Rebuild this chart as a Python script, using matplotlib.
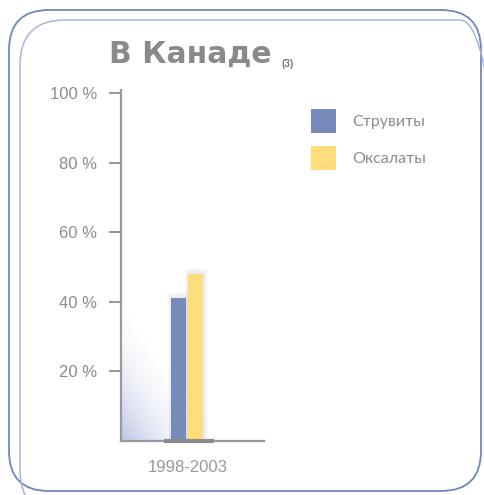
import numpy as np
import matplotlib
matplotlib.use("Agg")
import matplotlib.pyplot as plt
from matplotlib.patches import FancyBboxPatch, Rectangle

W, H = 484, 495

title = "В Канаде"
title_note = "(3)"
period = "1998-2003"
series_names = ["Струвиты", "Оксалаты"]
series_values = [41, 48]
series_colors = ["#788abb", "#ffdd7a"]
yticks = [20, 40, 60, 80, 100]
ytick_labels = ["20 %", "40 %", "60 %", "80 %", "100 %"]

GRAY = "#8c8c8c"
AXIS = "#9a9a9e"


def px(x, y):
    # pixel coords (top-left origin) -> figure fraction
    return x / W, 1 - y / H


fig = plt.figure(figsize=(W / 100, H / 100), dpi=100)
fig.patch.set_facecolor("white")

# rounded frames
for (x0, y0, x1, y1, r, col, lw) in [
    (9, 10, 481, 491, 40, "#6f86c0", 1.3),
    (20, 20, 505, 515, 45, "#a9b6db", 1.1),
]:
    fig.patches.append(FancyBboxPatch(
        (x0, H - y1), x1 - x0, y1 - y0,
        boxstyle=f"round,pad=0,rounding_size={r}",
        transform=None, fill=False, edgecolor=col, linewidth=lw))

# axes
left, top = px(121, 93)
right, bottom = px(264, 441)
ax = fig.add_axes([left, bottom, right - left, top - bottom])
ax.set_xlim(-0.66, 0.77)
ax.set_ylim(0, 100)
ax.patch.set_alpha(0)

# soft bluish shadow in the lower-left corner
yy, xx = np.mgrid[0:1:200j, 0:1:200j]
g = np.clip(1 - (xx * 1.2 + (1 - yy) * 1.0), 0, 1) ** 2.0
img = np.zeros((200, 200, 4))
img[..., 0] = 0.62
img[..., 1] = 0.67
img[..., 2] = 0.85
img[..., 3] = g * 0.7
ax.imshow(img, extent=(-0.66, 0.6, 0, 45), origin="upper",
          aspect="auto", zorder=0, interpolation="bilinear")

# bars with a soft gray glow
offsets = [-0.085, 0.085]
for off, v, c in zip(offsets, series_values, series_colors):
    for k in range(1, 7):
        d = 0.006 * k
        ax.add_patch(Rectangle((off - 0.0775 - d + 0.008, 0),
                               0.155 + 2 * d, v + 0.3 * k,
                               facecolor="#606070", alpha=0.02,
                               edgecolor="none", zorder=1))
    ax.bar(off, v, width=0.155, color=c, zorder=2, linewidth=0)

# base segment under bars
ax.plot([-0.23, 0.27], [0, 0], color="#8a8a90", lw=3, zorder=3,
        solid_capstyle="butt", clip_on=False)

for s in ["top", "right"]:
    ax.spines[s].set_visible(False)
for s in ["left", "bottom"]:
    ax.spines[s].set_color(AXIS)
    ax.spines[s].set_linewidth(1.6)
ax.spines["left"].set_bounds(0, 101)

ax.set_yticks(yticks)
ax.set_yticklabels(ytick_labels, family="Liberation Sans")
ax.tick_params(axis="y", length=9, width=1.5, color=AXIS, labelcolor=GRAY,
               labelsize=12, pad=8)
ax.set_xticks([0.01])
ax.set_xticklabels([period], family="Liberation Sans")
ax.tick_params(axis="x", length=0, labelcolor="#999999", labelsize=12,
               pad=14)

# title
tx, ty = px(109, 63)
fig.text(tx, ty, title, fontsize=21.5, fontweight="heavy", color="#8a8a8a",
         family="DejaVu Sans", va="baseline")
nx, ny = px(282, 67)
fig.text(nx, ny, title_note, fontsize=7, fontweight="bold", color="#777777",
         family="Liberation Sans", va="baseline")

# legend
for i, (name, c) in enumerate(zip(series_names, series_colors)):
    y0 = 109 + i * 37
    bx, by = px(311, y0 + 24)
    fig.patches.append(Rectangle((bx, by), 25 / W, 24 / H,
                                 transform=fig.transFigure, facecolor=c,
                                 edgecolor="none"))
    lx, ly = px(352, y0 + 13)
    fig.text(lx, ly, name, fontsize=11.5, color=GRAY, va="center",
             family="Lato")

fig.savefig("out.png", dpi=100)
